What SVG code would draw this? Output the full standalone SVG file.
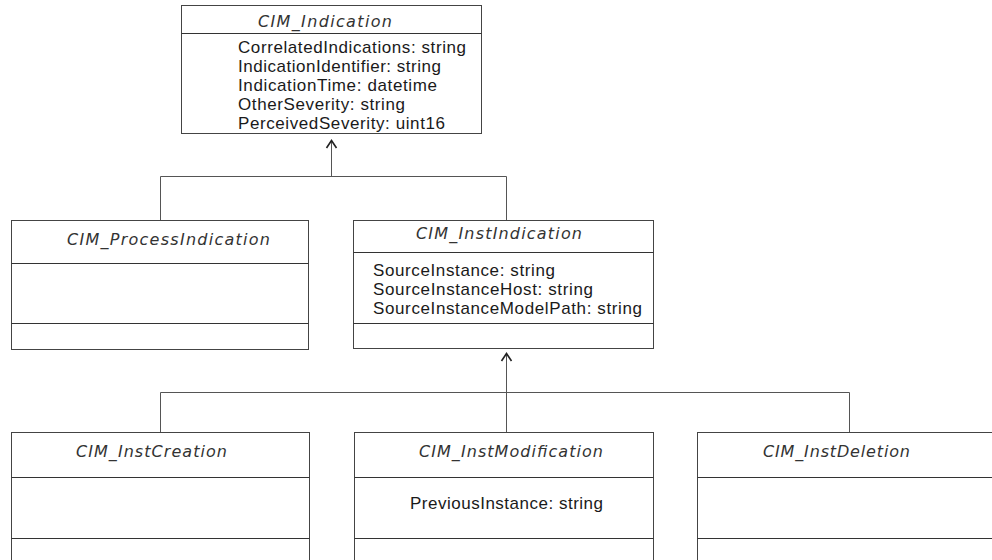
<svg xmlns="http://www.w3.org/2000/svg" width="992" height="560" viewBox="0 0 992 560">
<style>
.box{fill:#fff;stroke:#444;stroke-width:1}
.div{stroke:#333;stroke-width:1}
.con{fill:none;stroke:#555;stroke-width:1}
.head{fill:none;stroke:#222;stroke-width:1.6}
.title{font-family:"DejaVu Sans","Liberation Sans",sans-serif;font-style:italic;font-size:16px;fill:#333}
.attr{font-family:"Liberation Sans",Arial,sans-serif;font-size:17px;fill:#1a1a1a}
</style>
<rect width="992" height="560" fill="#fff"/>
<g id="connectors">
<path class="con" d="M331.5,141 V176.5 M160.5,220 V176.5 H506.5 V220"/>
<path class="head" d="M326.5,148 L331.5,140.5 L336.5,148"/>
<path class="con" d="M506.5,354 V432 M160.5,432 V392.5 H849.5 V432"/>
<path class="head" d="M501.5,361 L506.5,353.5 L511.5,361"/>
</g>
<g id="CIM_Indication">
<rect class="box" x="181.5" y="5.5" width="300" height="128"/>
<line class="div" x1="181.5" y1="33.5" x2="481.5" y2="33.5"/>
<text class="title" x="258" y="27" textLength="134" lengthAdjust="spacing">CIM_Indication</text>
<text class="attr" x="238" y="53" textLength="228" lengthAdjust="spacing">CorrelatedIndications: string</text>
<text class="attr" x="238" y="72" textLength="203" lengthAdjust="spacing">IndicationIdentifier: string</text>
<text class="attr" x="238" y="91" textLength="199" lengthAdjust="spacing">IndicationTime: datetime</text>
<text class="attr" x="238" y="110" textLength="167" lengthAdjust="spacing">OtherSeverity: string</text>
<text class="attr" x="238" y="129" textLength="207" lengthAdjust="spacing">PerceivedSeverity: uint16</text>
</g>
<g id="CIM_ProcessIndication">
<rect class="box" x="11.5" y="220.5" width="297" height="129"/>
<line class="div" x1="11.5" y1="263.5" x2="308.5" y2="263.5"/>
<line class="div" x1="11.5" y1="323.5" x2="308.5" y2="323.5"/>
<text class="title" x="67" y="245" textLength="203" lengthAdjust="spacing">CIM_ProcessIndication</text>
</g>
<g id="CIM_InstIndication">
<rect class="box" x="353.5" y="220.5" width="300" height="128"/>
<line class="div" x1="353.5" y1="252.5" x2="653.5" y2="252.5"/>
<line class="div" x1="353.5" y1="323.5" x2="653.5" y2="323.5"/>
<text class="title" x="416" y="239" textLength="166" lengthAdjust="spacing">CIM_InstIndication</text>
<text class="attr" x="373" y="276" textLength="182" lengthAdjust="spacing">SourceInstance: string</text>
<text class="attr" x="373" y="295" textLength="220" lengthAdjust="spacing">SourceInstanceHost: string</text>
<text class="attr" x="373" y="314" textLength="269" lengthAdjust="spacing">SourceInstanceModelPath: string</text>
</g>
<g id="CIM_InstCreation">
<rect class="box" x="11.5" y="432.5" width="298" height="140"/>
<line class="div" x1="11.5" y1="477.5" x2="309.5" y2="477.5"/>
<line class="div" x1="11.5" y1="538.5" x2="309.5" y2="538.5"/>
<text class="title" x="76" y="457" textLength="151" lengthAdjust="spacing">CIM_InstCreation</text>
</g>
<g id="CIM_InstModification">
<rect class="box" x="354.5" y="432.5" width="299" height="140"/>
<line class="div" x1="354.5" y1="477.5" x2="653.5" y2="477.5"/>
<line class="div" x1="354.5" y1="538.5" x2="653.5" y2="538.5"/>
<text class="title" x="419" y="457" textLength="184" lengthAdjust="spacing">CIM_InstModification</text>
<text class="attr" x="410" y="509" textLength="193" lengthAdjust="spacing">PreviousInstance: string</text>
</g>
<g id="CIM_InstDeletion">
<rect class="box" x="697.5" y="432.5" width="300" height="140"/>
<line class="div" x1="697.5" y1="477.5" x2="997.5" y2="477.5"/>
<line class="div" x1="697.5" y1="538.5" x2="997.5" y2="538.5"/>
<text class="title" x="763" y="457" textLength="147" lengthAdjust="spacing">CIM_InstDeletion</text>
</g>
</svg>
